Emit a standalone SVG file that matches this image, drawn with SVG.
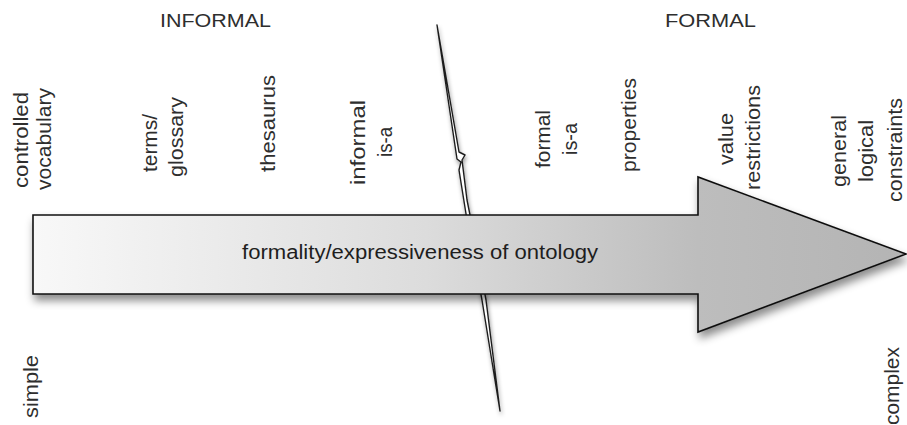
<svg xmlns="http://www.w3.org/2000/svg" width="907" height="425" viewBox="0 0 907 425">
<defs>
  <linearGradient id="arrowGrad" x1="33" y1="0" x2="907" y2="0" gradientUnits="userSpaceOnUse">
    <stop offset="0" stop-color="#f8f8f8"/>
    <stop offset="0.45" stop-color="#dcdcdc"/>
    <stop offset="0.76" stop-color="#bdbdbd"/>
    <stop offset="1" stop-color="#b4b4b4"/>
  </linearGradient>
  <filter id="shadow" x="-10%" y="-20%" width="130%" height="160%">
    <feDropShadow dx="2" dy="6" stdDeviation="4" flood-color="#000" flood-opacity="0.45"/>
  </filter>
  <filter id="boltShadow" x="-50%" y="-10%" width="200%" height="120%">
    <feDropShadow dx="1" dy="3" stdDeviation="2" flood-color="#000" flood-opacity="0.4"/>
  </filter>
</defs>
<style>
  text { font-family: "Liberation Sans", Arial, Helvetica, sans-serif; fill: #2e2e2e; }
  .hdr { font-size: 17.5px; }
  .lbl { font-size: 19.5px; text-anchor: middle; }
  .main { font-size: 20px; fill: #1e1e1e; }
</style>
<rect width="907" height="425" fill="#ffffff"/>

<g id="divider">
  <polygon points="437,25 459,152 465,155 462,160 467,200 473,230 486,300 500,411 482,300 467,220 459,170 461,162 457,159" fill="#ffffff" stroke="#1e1e1e" stroke-width="1.4" stroke-linejoin="round" filter="url(#boltShadow)"/>
</g>

<g id="arrow">
  <polygon points="33,215 698,215 698,177 906,254 698,332 698,294 33,294" fill="url(#arrowGrad)" stroke="#111" stroke-width="1.6" stroke-linejoin="miter" filter="url(#shadow)"/>
  <text class="main" x="242" y="259" textLength="356" lengthAdjust="spacingAndGlyphs">formality/expressiveness of ontology</text>
</g>

<g id="header-informal">
  <text class="hdr" x="160" y="27" textLength="111" lengthAdjust="spacingAndGlyphs">INFORMAL</text>
</g>
<g id="header-formal">
  <text class="hdr" x="665" y="27" textLength="91" lengthAdjust="spacingAndGlyphs">FORMAL</text>
</g>

<g id="controlled-vocabulary">
  <text class="lbl" transform="translate(28,140) rotate(-90)" textLength="96" lengthAdjust="spacingAndGlyphs">controlled</text>
  <text class="lbl" transform="translate(51,139) rotate(-90)" textLength="102" lengthAdjust="spacingAndGlyphs">vocabulary</text>
</g>
<g id="terms-glossary">
  <text class="lbl" transform="translate(157,143) rotate(-90)" textLength="58" lengthAdjust="spacingAndGlyphs">terms/</text>
  <text class="lbl" transform="translate(183,137) rotate(-90)" textLength="80" lengthAdjust="spacingAndGlyphs">glossary</text>
</g>
<g id="thesaurus">
  <text class="lbl" transform="translate(275,123.5) rotate(-90)" textLength="97" lengthAdjust="spacingAndGlyphs">thesaurus</text>
</g>
<g id="informal-is-a">
  <text class="lbl" transform="translate(365,142.5) rotate(-90)" textLength="85" lengthAdjust="spacingAndGlyphs">informal</text>
  <text class="lbl" transform="translate(392,142) rotate(-90)" textLength="30" lengthAdjust="spacingAndGlyphs">is-a</text>
</g>
<g id="formal-is-a">
  <text class="lbl" transform="translate(550,139) rotate(-90)" textLength="58" lengthAdjust="spacingAndGlyphs">formal</text>
  <text class="lbl" transform="translate(577,139) rotate(-90)" textLength="32" lengthAdjust="spacingAndGlyphs">is-a</text>
</g>
<g id="properties">
  <text class="lbl" transform="translate(636,125) rotate(-90)" textLength="94" lengthAdjust="spacingAndGlyphs">properties</text>
</g>
<g id="value-restrictions">
  <text class="lbl" transform="translate(733,139) rotate(-90)" textLength="52" lengthAdjust="spacingAndGlyphs">value</text>
  <text class="lbl" transform="translate(760,137.5) rotate(-90)" textLength="105" lengthAdjust="spacingAndGlyphs">restrictions</text>
</g>
<g id="general-logical-constraints">
  <text class="lbl" transform="translate(846,151) rotate(-90)" textLength="72" lengthAdjust="spacingAndGlyphs">general</text>
  <text class="lbl" transform="translate(873,151) rotate(-90)" textLength="62" lengthAdjust="spacingAndGlyphs">logical</text>
  <text class="lbl" transform="translate(902,150) rotate(-90)" textLength="104" lengthAdjust="spacingAndGlyphs">constraints</text>
</g>
<g id="simple">
  <text class="lbl" transform="translate(38,386.5) rotate(-90)" textLength="63" lengthAdjust="spacingAndGlyphs">simple</text>
</g>
<g id="complex">
  <text class="lbl" transform="translate(899,386) rotate(-90)" textLength="78" lengthAdjust="spacingAndGlyphs">complex</text>
</g>
</svg>
